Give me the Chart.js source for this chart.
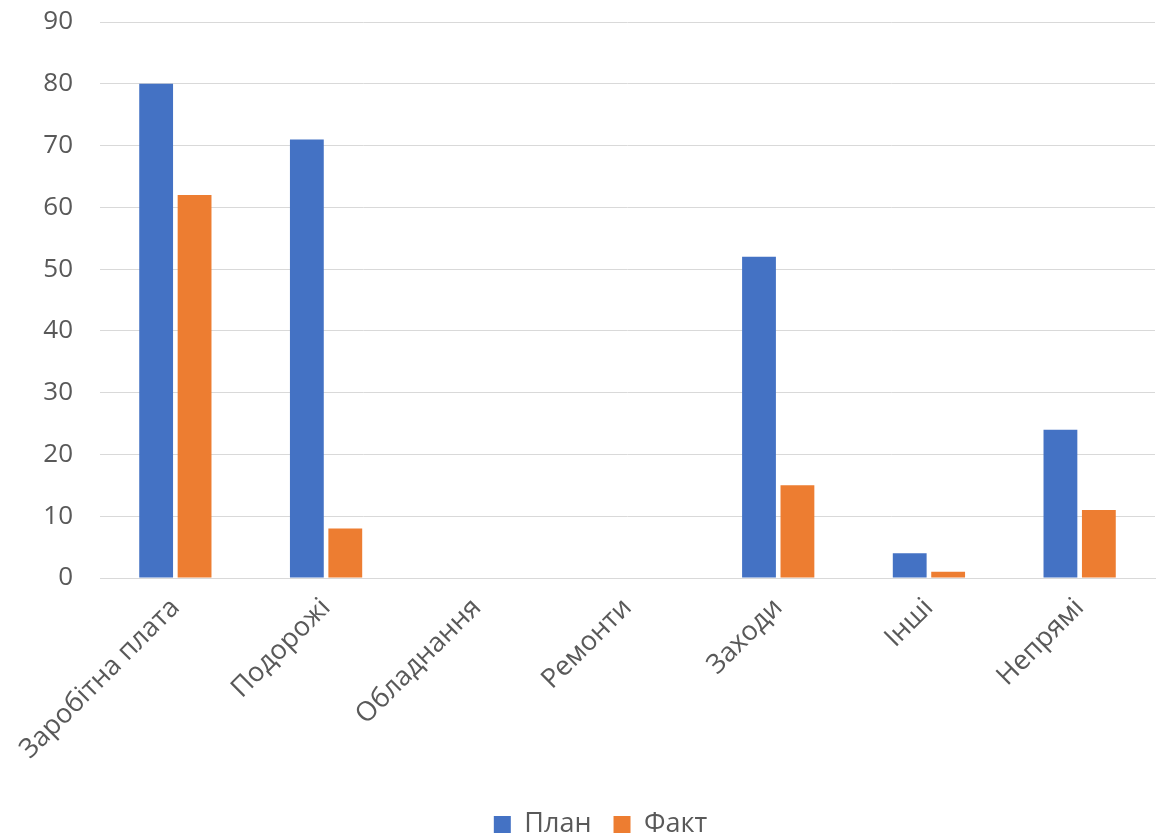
<!DOCTYPE html>
<html>
<head>
<meta charset="utf-8">
<script src="https://cdn.jsdelivr.net/npm/chart.js@4"></script>
<style>
  html, body { margin: 0; padding: 0; background: #ffffff; }
  #wrap { width: 1167px; height: 836px; position: relative; }
</style>
</head>
<body>
<div id="wrap"><canvas id="myChart"></canvas></div>
<script>
/*---- chart data ----*/
var categories = ["Заробітна плата", "Подорожі", "Обладнання", "Ремонти", "Заходи", "Інші", "Непрямі"];
var planValues = [80, 71, 0, 0, 52, 4, 24];
var factValues = [62, 8, 0, 0, 15, 1, 11];
var yTicks = [0, 10, 20, 30, 40, 50, 60, 70, 80, 90];

var textColor = "#595959";
var fontFamily = "'Open Sans', 'Noto Sans', sans-serif";

/*---- small plugin : nudges the legend a bit to the right, like the original ----*/
var legendShift = {
    id: 'legendShift',
    afterLayout: function(chart) {
        if (chart.legend) {
            chart.legend.left += 23;
            chart.legend.right += 23;
        }
    }
};

var ctx = document.getElementById("myChart").getContext("2d");
var myChart = new Chart(ctx, {
    type: 'bar',
    data: {
        labels: categories,
        datasets: [{
            label: 'План',
            data: planValues,
            backgroundColor: '#4472C4',
            categoryPercentage: 0.51,
            barPercentage: 0.88
        }, {
            label: 'Факт',
            data: factValues,
            backgroundColor: '#ED7D31',
            categoryPercentage: 0.51,
            barPercentage: 0.88
        }]
    },
    plugins: [legendShift],
    options: {
        responsive: true,
        maintainAspectRatio: false,
        animation: false,
        layout: { padding: { top: 0, right: 12, left: 0, bottom: -12 } },
        plugins: {
            tooltip: { enabled: false },
            legend: {
                position: 'bottom',
                labels: {
                    color: textColor,
                    font: { family: fontFamily, size: 27 },
                    boxWidth: 17,
                    boxHeight: 17,
                    padding: 22
                }
            }
        },
        scales: {
            x: {
                grid: { display: false },
                border: { display: true, color: '#d9d9d9', width: 1 },
                ticks: {
                    color: textColor,
                    font: { family: fontFamily, size: 27 },
                    minRotation: 45,
                    maxRotation: 45,
                    padding: 6
                },
                afterFit: function(scale) { scale.height = 211; }
            },
            y: {
                min: 0,
                max: 90,
                afterBuildTicks: function(scale) {
                    scale.ticks = yTicks.map(function(v) { return { value: v }; });
                },
                grid: { color: '#d9d9d9', lineWidth: 1, drawTicks: false },
                border: { display: false },
                ticks: {
                    color: textColor,
                    font: { family: fontFamily, size: 26 },
                    padding: 27
                },
                afterFit: function(scale) {
                    scale.width = 100;
                    scale.paddingTop = 22;
                    scale.paddingBottom = 0;
                }
            }
        }
    }
});
</script>
</body>
</html>
